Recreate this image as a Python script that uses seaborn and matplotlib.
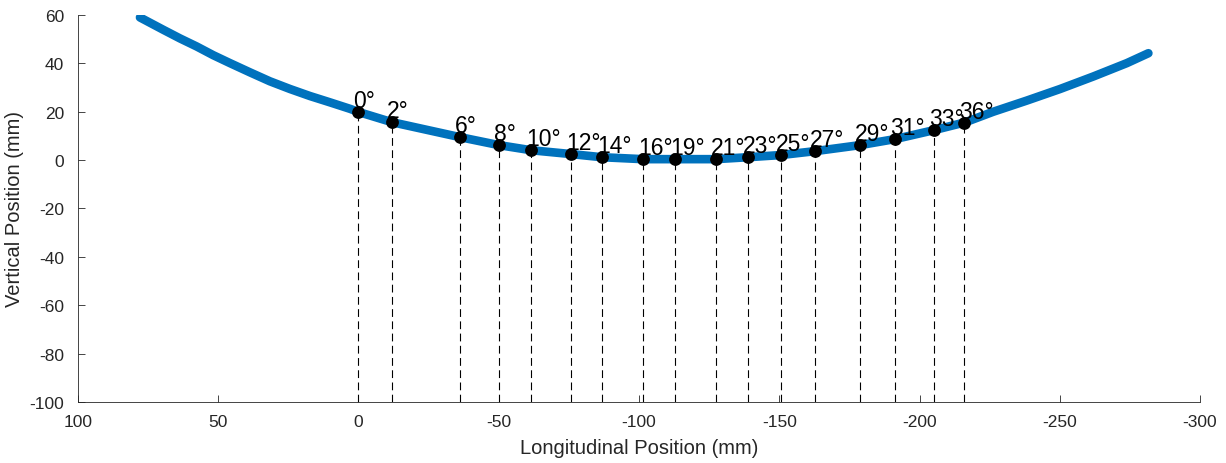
import matplotlib
matplotlib.use("Agg")
import matplotlib.pyplot as plt
import seaborn as sns
import pandas as pd

# Blue trajectory points
curve_x = [77.9, 69.6, 63.6, 57.7, 51.8, 45.8, 38.7, 31.6, 24.4, 17.3, 10.2, 3.0,
           0.0, -11.9, -36.2, -50.1, -61.5, -75.8, -86.8, -101.4, -112.8, -127.4,
           -138.9, -150.6, -162.7, -178.8, -191.3, -205.2, -216.2,
           -226.3, -238.2, -250.1, -262.0, -273.9, -281.6]
curve_y = [59.0, 53.9, 50.3, 47.0, 43.4, 40.1, 36.3, 32.6, 29.4, 26.5, 23.9, 21.2,
           19.9, 15.7, 9.5, 6.2, 4.1, 2.5, 1.2, 0.4, 0.4, 0.4,
           1.2, 2.1, 3.7, 6.2, 8.7, 12.4, 15.6,
           20.0, 24.6, 29.4, 34.6, 40.1, 44.2]

# Marked angle points
angle_labels = ["0°", "2°", "6°", "8°", "10°", "12°", "14°", "16°", "19°", "21°", "23°",
                "25°", "27°", "29°", "31°", "33°", "36°"]
angle_x = [0.0, -11.9, -36.2, -50.1, -61.5, -75.8, -86.8, -101.4, -112.8, -127.4, -138.9,
           -150.6, -162.7, -178.8, -191.3, -205.2, -215.9]
angle_y = [19.8, 15.7, 9.5, 6.2, 4.1, 2.5, 1.2, 0.4, 0.4, 0.4, 1.2,
           2.1, 3.7, 6.2, 8.7, 12.4, 15.3]

x_ticks = [100, 50, 0, -50, -100, -150, -200, -250, -300]
y_ticks = [60, 40, 20, 0, -20, -40, -60, -80, -100]

sns.set_theme(style="white")
plt.rcParams['font.family'] = ['Liberation Sans', 'DejaVu Sans']

fig = plt.figure(figsize=(12.26, 4.64), dpi=100)
ax = fig.add_axes([0.0636, 0.1315, 0.9152, 0.834])

curve_df = pd.DataFrame({"x": curve_x, "y": curve_y})
pts_df = pd.DataFrame({"x": angle_x, "y": angle_y, "label": angle_labels})

sns.lineplot(data=curve_df, x="x", y="y", sort=False, ax=ax, color="#0072BD",
             linewidth=6.2, solid_capstyle="round", solid_joinstyle="round", estimator=None)

ax.vlines(angle_x, -100, angle_y, colors="black", linestyles=(0, (7, 4)), linewidth=0.8, zorder=3)

sns.scatterplot(data=pts_df, x="x", y="y", ax=ax, color="black", s=85, edgecolor="black",
                linewidth=0, zorder=4)

for lx, ly, lab in zip(angle_x, angle_y, angle_labels):
    ax.annotate(lab, (lx, ly), xytext=(-3.5, 3.5), textcoords="offset points",
                ha="left", va="baseline", fontsize=16.5, color="black", zorder=5)

ax.set_xlim(100, -300)
ax.set_ylim(-100, 60)
ax.set_xticks(x_ticks)
ax.set_yticks(y_ticks)
ax.set_xticklabels([str(t) for t in x_ticks])
ax.set_yticklabels([str(t) for t in y_ticks])
ax.tick_params(direction="in", length=5, width=0.6, colors="#262626", labelsize=12.5,
               bottom=True, left=True)
ax.tick_params(axis="x", pad=9)
ax.tick_params(axis="y", pad=10)
ax.set_xlabel("Longitudinal Position (mm)", fontsize=14.5, color="#262626", labelpad=6)
ax.set_ylabel("Vertical Position (mm)", fontsize=14.5, color="#262626", labelpad=4)

for side in ["top", "right"]:
    ax.spines[side].set_visible(False)
for side in ["left", "bottom"]:
    ax.spines[side].set_color("#262626")
    ax.spines[side].set_linewidth(0.6)

fig.savefig("out.png", dpi=100)
